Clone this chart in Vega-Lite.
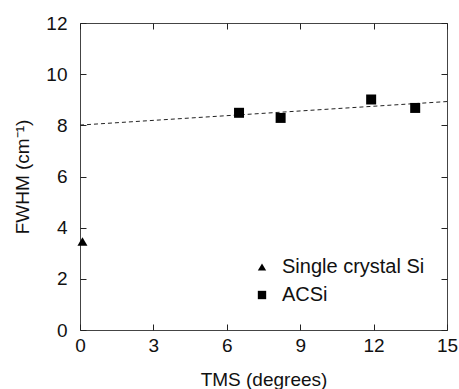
{
  "$schema": "https://vega.github.io/schema/vega-lite/v6.json",
  "width": 367,
  "height": 307,
  "autosize": {"type": "none"},
  "padding": {"left": 80, "top": 23, "right": 12, "bottom": 59},
  "background": "white",
  "config": {
    "view": {"stroke": "#444", "strokeWidth": 1},
    "font": "Liberation Sans",
    "axis": {
      "grid": false,
      "domainColor": "#444",
      "tickColor": "#222",
      "labelColor": "#111",
      "titleColor": "#111",
      "labelFontSize": 19,
      "titleFontSize": 19,
      "titleFontWeight": "normal",
      "labelFont": "Liberation Sans",
      "titleFont": "Liberation Sans",
      "labelFlush": false,
      "labelOverlap": false
    },
    "legend": {
      "labelFontSize": 20,
      "labelColor": "#111",
      "labelFont": "Liberation Sans"
    }
  },
  "datasets": {
    "fit": [
      {"tms": 0, "fwhm": 8.01},
      {"tms": 15, "fwhm": 8.93}
    ],
    "pts": [
      {"tms": 0.1, "fwhm": 3.46, "sample": "Single crystal Si"},
      {"tms": 6.5, "fwhm": 8.49, "sample": "ACSi"},
      {"tms": 8.2, "fwhm": 8.29, "sample": "ACSi"},
      {"tms": 11.9, "fwhm": 9.01, "sample": "ACSi"},
      {"tms": 13.7, "fwhm": 8.68, "sample": "ACSi"}
    ]
  },
  "layer": [
    {
      "data": {"name": "fit"},
      "mark": {"type": "line", "color": "#222", "strokeWidth": 1, "strokeDash": [4, 3]},
      "encoding": {
        "x": {
          "field": "tms", "type": "quantitative",
          "scale": {"domain": [0, 15], "nice": false, "zero": false},
          "axis": {"orient": "bottom", "title": "TMS (degrees)", "values": [0, 3, 6, 9, 12, 15], "tickSize": -6, "labelPadding": 12, "domain": false, "titleY": 40, "titleBaseline": "top"}
        },
        "y": {
          "field": "fwhm", "type": "quantitative",
          "scale": {"domain": [0, 12], "nice": false},
          "axis": {"orient": "left", "title": "FWHM (cm⁻¹)", "values": [0, 2, 4, 6, 8, 10, 12], "tickSize": -6, "labelPadding": 19, "domain": false, "titleX": -48}
        }
      }
    },
    {
      "data": {"name": "pts"},
      "mark": {"type": "point", "filled": true, "opacity": 1, "color": "black", "size": 100},
      "encoding": {
        "x": {"field": "tms", "type": "quantitative", "axis": null},
        "y": {"field": "fwhm", "type": "quantitative", "axis": null},
        "shape": {
          "field": "sample", "type": "nominal",
          "scale": {"domain": ["Single crystal Si", "ACSi"], "range": ["triangle-up", "square"]},
          "legend": {"title": null, "orient": "none", "legendX": 172, "legendY": 234, "symbolSize": 70, "rowPadding": 8, "labelOffset": 10, "padding": 0, "symbolStrokeWidth": 0, "symbolFillColor": "black"}
        }
      }
    },
    {
      "data": {"name": "fit"},
      "mark": {"type": "line", "strokeOpacity": 0},
      "encoding": {
        "x": {"field": "tms", "type": "quantitative", "axis": {"orient": "top", "title": null, "labels": false, "values": [0, 3, 6, 9, 12, 15], "tickSize": -6, "domain": false}},
        "y": {"field": "fwhm", "type": "quantitative", "axis": {"orient": "right", "title": null, "labels": false, "values": [0, 2, 4, 6, 8, 10, 12], "tickSize": -6, "domain": false}}
      }
    }
  ],
  "resolve": {"axis": {"x": "independent", "y": "independent"}}
}
